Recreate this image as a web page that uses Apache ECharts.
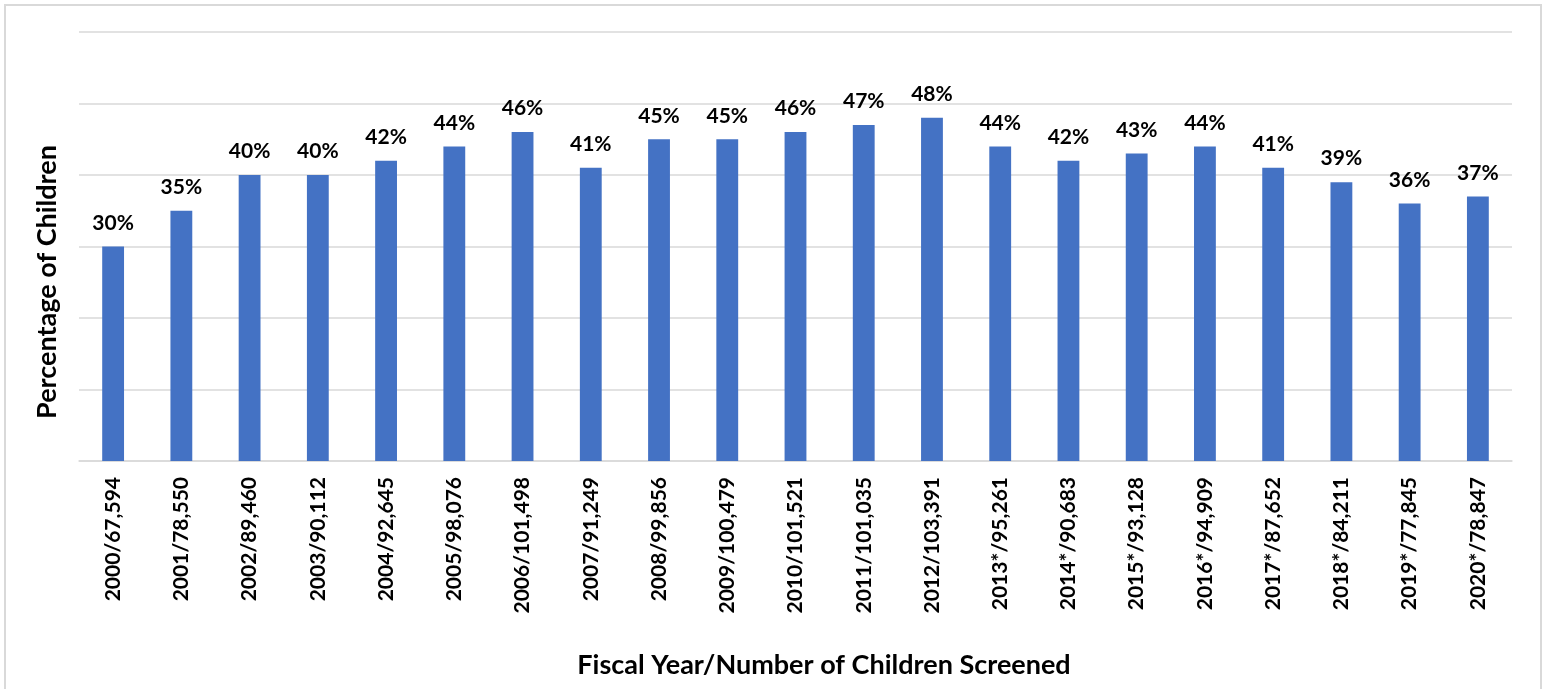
<!DOCTYPE html>
<html>
<head>
<meta charset="utf-8">
<script src="https://cdn.jsdelivr.net/npm/echarts@6/dist/echarts.min.js"></script>
<style>
  html, body { margin: 0; padding: 0; background: #fff; }
  #chart { width: 1546px; height: 689px; }
</style>
</head>
<body>
<div id="chart"></div>
<script>
// Fiscal year / number of children screened
const categories = [
  '2000/67,594', '2001/78,550', '2002/89,460', '2003/90,112', '2004/92,645',
  '2005/98,076', '2006/101,498', '2007/91,249', '2008/99,856', '2009/100,479',
  '2010/101,521', '2011/101,035', '2012/103,391', '2013*/95,261', '2014*/90,683',
  '2015*/93,128', '2016*/94,909', '2017*/87,652', '2018*/84,211', '2019*/77,845',
  '2020*/78,847'
];
// Percentage of children per year
const percentages = [30, 35, 40, 40, 42, 44, 46, 41, 45, 45, 46, 47, 48, 44, 42, 43, 44, 41, 39, 36, 37];

const FONT = 'Lato, "Open Sans", sans-serif';
const chart = echarts.init(document.getElementById('chart'), null, { renderer: 'canvas' });

chart.setOption({
  animation: false,
  backgroundColor: '#ffffff',
  grid: { left: 79, right: 34, top: 32, bottom: 228, containLabel: false },
  xAxis: {
    type: 'category',
    data: categories,
    axisLine: { show: true, lineStyle: { color: '#d9d9d9', width: 1.5 } },
    axisTick: { show: false },
    axisLabel: {
      rotate: 90,
      margin: 16,
      color: '#000',
      fontFamily: FONT,
      fontWeight: 'bold',
      fontSize: 21
    }
  },
  yAxis: {
    type: 'value',
    min: 0,
    max: 60,
    interval: 10,
    axisLine: { show: false },
    axisTick: { show: false },
    axisLabel: { show: false },
    splitLine: { lineStyle: { color: '#d9d9d9', width: 1.5 } }
  },
  series: [{
    type: 'bar',
    data: percentages,
    barWidth: '32%',
    itemStyle: { color: '#4472c4' },
    label: {
      show: true,
      position: 'top',
      distance: 13,
      formatter: '{c}%',
      color: '#000',
      fontFamily: FONT,
      fontWeight: 'bold',
      fontSize: 21
    }
  }],
  graphic: [
    {
      type: 'rect',
      silent: true,
      shape: { x: 5, y: 5, width: 1536, height: 700 },
      style: { fill: 'none', stroke: '#d9d9d9', lineWidth: 2 }
    },
    {
      type: 'text',
      silent: true,
      x: 47,
      y: 282,
      rotation: Math.PI / 2,
      style: {
        text: 'Percentage of Children',
        fill: '#000',
        font: 'bold 27px ' + FONT,
        align: 'center',
        verticalAlign: 'middle'
      }
    },
    {
      type: 'text',
      silent: true,
      x: 824,
      y: 665,
      style: {
        text: 'Fiscal Year/Number of Children Screened',
        fill: '#000',
        font: 'bold 27px ' + FONT,
        align: 'center',
        verticalAlign: 'middle'
      }
    }
  ]
});
</script>
</body>
</html>
